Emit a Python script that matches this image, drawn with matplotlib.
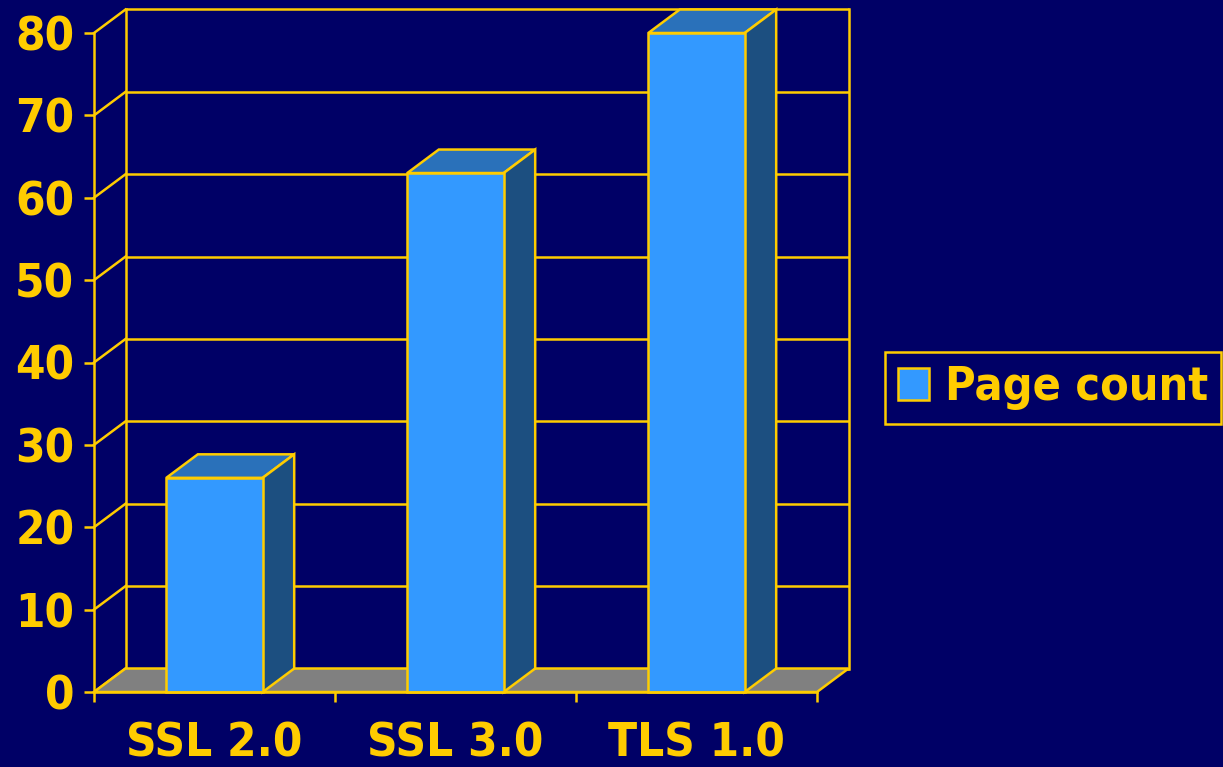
import matplotlib
matplotlib.use("Agg")
import matplotlib.pyplot as plt
from matplotlib.patches import Polygon, Patch

categories = ["SSL 2.0", "SSL 3.0", "TLS 1.0"]
page_count = [26, 63, 80]
series_name = "Page count"
y_ticks = [0, 10, 20, 30, 40, 50, 60, 70, 80]

BG = "#000066"
YEL = "#FFCC00"
FRONT = "#3399FF"
TOP = "#2A71BA"
SIDE = "#1C4F80"
FLOOR = "#808080"

W, H = 1223, 767
fig = plt.figure(figsize=(W / 100, H / 100), dpi=100, facecolor=BG)

# front plane in pixels
L, R, B, T = 94, 817, 692, 33
ax = fig.add_axes([L / W, (H - B) / H, (R - L) / W, (B - T) / H])
ax.set_facecolor("none")
n = len(categories)
ax.set_xlim(0, n)
ax.set_ylim(0, 80)

# depth offset in data units
DXP, DYP = 31.5, 23.5
dx = DXP / ((R - L) / n)
dy = DYP / ((B - T) / 80)

fam = "DejaVu Sans"

lw = 1.8
# back wall gridlines and side-wall diagonals
for v in y_ticks:
    ax.plot([dx, n + dx], [v + dy, v + dy], color=YEL, lw=lw, zorder=1, clip_on=False,
            solid_capstyle="butt")
    ax.plot([0, dx], [v, v + dy], color=YEL, lw=lw, zorder=1, clip_on=False)
# back wall verticals
for xx in [dx, n + dx]:
    ax.plot([xx, xx], [dy, 80 + dy], color=YEL, lw=lw, zorder=1, clip_on=False)

# floor
ax.add_patch(Polygon([(0, 0), (n, 0), (n + dx, dy), (dx, dy)], closed=True,
                     facecolor=FLOOR, edgecolor=YEL, lw=lw, zorder=2, clip_on=False,
                     joinstyle="miter"))

# bars
bw = 0.4
for i, v in enumerate(page_count):
    c = i + 0.5
    x0, x1 = c - bw / 2, c + bw / 2
    top = Polygon([(x0, v), (x1, v), (x1 + dx, v + dy), (x0 + dx, v + dy)], closed=True,
                  facecolor=TOP, edgecolor=YEL, lw=lw, zorder=3, clip_on=False)
    side = Polygon([(x1, 0), (x1 + dx, dy), (x1 + dx, v + dy), (x1, v)], closed=True,
                   facecolor=SIDE, edgecolor=YEL, lw=lw, zorder=3, clip_on=False)
    front = Polygon([(x0, 0), (x1, 0), (x1, v), (x0, v)], closed=True,
                    facecolor=FRONT, edgecolor=YEL, lw=lw, zorder=4, clip_on=False)
    for p in (top, side, front):
        ax.add_patch(p)

# axes: spines and ticks
for s in ["top", "right"]:
    ax.spines[s].set_visible(False)
for s in ["left", "bottom"]:
    ax.spines[s].set_color(YEL)
    ax.spines[s].set_linewidth(lw)
    ax.spines[s].set_zorder(5)

ax.set_yticks(y_ticks)
ax.set_yticklabels([str(v) for v in y_ticks])
ax.set_xticks(range(n + 1))
ax.set_xticklabels([""] * (n + 1))
ax.set_xticks([i + 0.5 for i in range(n)], minor=True)
ax.set_xticklabels(categories, minor=True)
ax.tick_params(axis="y", direction="out", length=7.2, width=lw, color=YEL,
               labelcolor=YEL, labelsize=34, pad=7)
ax.tick_params(axis="x", which="major", direction="out", length=7.2, width=lw, color=YEL)
ax.tick_params(axis="x", which="minor", length=0, labelcolor=YEL, labelsize=34, pad=21)
for lab in ax.get_yticklabels() + ax.get_xticklabels(minor=True):
    lab.set_fontfamily(fam)
    lab.set_fontweight("bold")
    lab.set_fontstretch("condensed")

# legend
handle = Patch(facecolor=FRONT, edgecolor=YEL, lw=lw)
leg = fig.legend([handle], [series_name], loc="center left",
                 bbox_to_anchor=(885 / W, (H - 388) / H),
                 frameon=True, fancybox=False, framealpha=1,
                 facecolor=BG, edgecolor=YEL, labelcolor=YEL,
                 handlelength=0.67, handleheight=0.67, handletextpad=0.34,
                 borderpad=0.28, borderaxespad=0,
                 prop=dict(family=fam, weight="bold", stretch="condensed", size=33.5))
leg.get_frame().set_linewidth(lw)

fig.savefig("out.png", dpi=100, facecolor=BG)
